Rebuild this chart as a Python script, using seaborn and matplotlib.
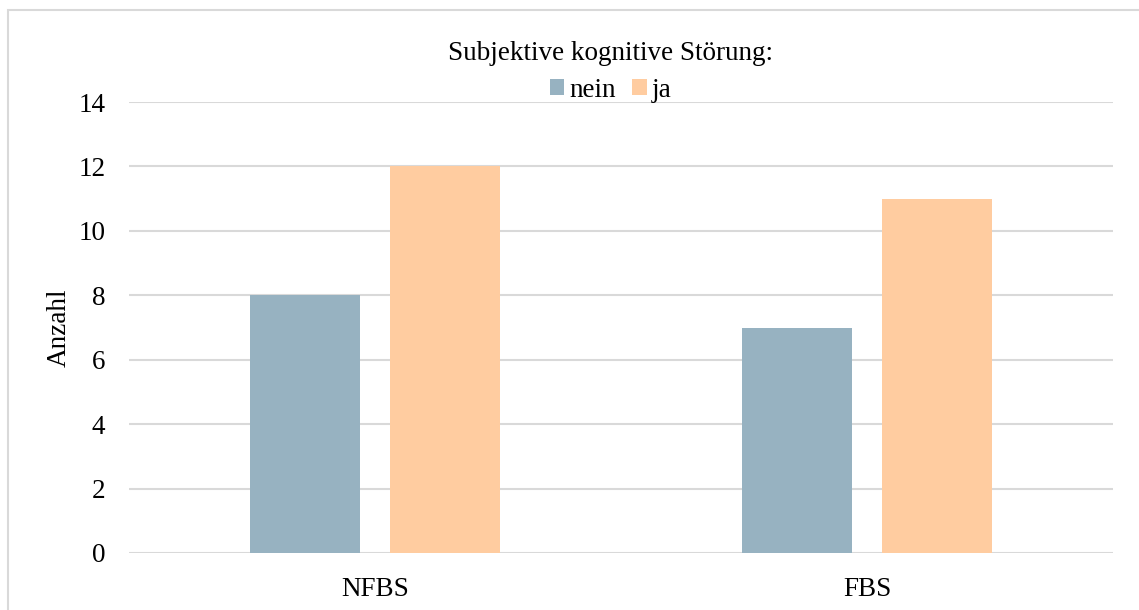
import matplotlib
matplotlib.use("Agg")
import matplotlib.pyplot as plt
from matplotlib.patches import Rectangle
import seaborn as sns
import pandas as pd

# Counts per group and answer
groups = ["NFBS", "FBS"]
answers = ["nein", "ja"]
nein_counts = [8, 7]
ja_counts = [12, 11]
y_ticks = [0, 2, 4, 6, 8, 10, 12, 14]

df = pd.DataFrame({
    "Gruppe": groups * 2,
    "Antwort": [answers[0]] * len(groups) + [answers[1]] * len(groups),
    "Anzahl": nein_counts + ja_counts,
})

sns.set_theme(style="white")
plt.rcParams["font.family"] = ["Liberation Serif", "DejaVu Serif"]
FS = 19.5
GRID = "#D9D9D9"

W, H = 1139, 610
fig = plt.figure(figsize=(W / 100, H / 100), dpi=100)
ax = fig.add_axes([129 / W, 1 - 553 / H, (1113 - 129) / W, (553 - 102) / H])

palette = {"nein": "#97B2C1", "ja": "#FFCCA0"}
sns.barplot(data=df, x="Gruppe", y="Anzahl", hue="Antwort", order=groups,
            hue_order=answers, palette=palette, width=0.57, gap=0.21,
            saturation=1, linewidth=0, edgecolor="none", ax=ax, zorder=3)

ax.set_xlim(-0.5, 1.5)
ax.set_ylim(0, 14)
ax.set_yticks(y_ticks)
ax.set_yticklabels([str(t) for t in y_ticks])
ax.yaxis.grid(True, color=GRID, linewidth=1.5, zorder=0)
ax.set_axisbelow(True)
for s in ax.spines.values():
    s.set_visible(False)
ax.tick_params(axis="both", length=0, labelsize=FS, colors="black")
ax.tick_params(axis="y", pad=17)
ax.tick_params(axis="x", pad=17)
ax.set_xlabel("")
ax.set_ylabel("Anzahl", fontsize=FS, color="black")
ax.yaxis.set_label_coords(-0.058, 0.5)

handles, labels = ax.get_legend_handles_labels()
ax.get_legend().remove()
leg = fig.legend(handles, labels, title="Subjektive kognitive Störung:",
                 loc="upper center", bbox_to_anchor=(611 / W, 1 - 27 / H),
                 ncol=2, frameon=False, fontsize=FS, title_fontsize=FS,
                 handlelength=0.52, handleheight=0.52, handletextpad=0.2,
                 columnspacing=0.6, borderpad=0, labelspacing=0.45)
leg.get_title().set_color("black")
for t in leg.get_texts():
    t.set_color("black")

# Chart-area frame
fig.patches.append(Rectangle((8 / W, -0.05), 1.1, 1 - 10 / H + 0.05,
                             transform=fig.transFigure, fill=False,
                             edgecolor=GRID, linewidth=1.5))

fig.savefig("out.png", dpi=100, facecolor="white")
